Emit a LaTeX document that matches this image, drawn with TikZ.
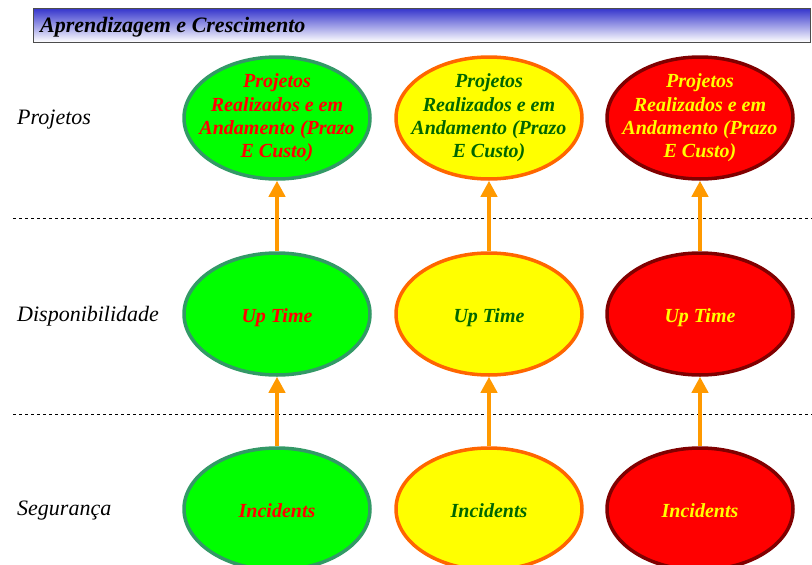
\documentclass[tikz,border=0pt]{standalone}
\usepackage{fontspec}
\setmainfont{Liberation Serif}
\usetikzlibrary{shapes.geometric,arrows.meta}
\definecolor{bargreen}{HTML}{00FF00}
\definecolor{edgegreen}{HTML}{339966}
\definecolor{baryellow}{HTML}{FFFF00}
\definecolor{edgeorange}{HTML}{FF6600}
\definecolor{barred}{HTML}{FF0000}
\definecolor{edgered}{HTML}{800000}
\definecolor{txtgreen}{HTML}{006600}
\definecolor{arrorange}{HTML}{FF9900}
\definecolor{titleblue}{HTML}{3333CC}
\tikzset{
  oval/.style={ellipse, line width=3.5pt, minimum width=186pt, minimum height=122pt,
    inner sep=0pt, align=center, font=\fontsize{20}{23.3}\selectfont\bfseries\itshape},
  long/.style={inner xsep=-17pt, inner ysep=-5pt},
  short/.style={text height=20pt, text depth=4pt},
  good/.style={oval, draw=edgegreen, fill=bargreen, text=barred},
  warn/.style={oval, draw=edgeorange, fill=baryellow, text=txtgreen},
  bad/.style={oval, draw=edgered, fill=barred, text=baryellow},
  rowlabel/.style={anchor=west, inner sep=0pt, font=\fontsize{22}{24}\selectfont\itshape},
  sep/.style={dashed, line width=0.6pt},
  link/.style={draw=arrorange, line width=4pt, -{Triangle[length=16pt,width=16pt]}}
}
\begin{document}
\begin{tikzpicture}[x=1pt,y=-1pt]
\useasboundingbox (0,0) rectangle (812,565);
% title bar
\shade[top color=titleblue, bottom color=white] (33,8) rectangle (810,42);
\draw[line width=0.8pt, black!70] (33,8) rectangle (810,42);
\node[anchor=west, inner sep=0pt, font=\fontsize{22}{24}\selectfont\bfseries\itshape] (title) at (40,27) {Aprendizagem e Crescimento};
% separators
\coordinate (s1a) at (13,218); \coordinate (s1b) at (812,218);
\coordinate (s2a) at (13,414); \coordinate (s2b) at (812,414);
\draw[sep] (s1a) -- (s1b);
\draw[sep] (s2a) -- (s2b);
% row labels
\node[rowlabel] (lp) at (17,120) {Projetos};
\node[rowlabel] (ld) at (17,316) {Disponibilidade};
\node[rowlabel] (ls) at (17,511) {Segurança};
% projects
\node[good,long] (p1) at (277,118) {Projetos\\Realizados e em\\Andamento (Prazo\\E Custo)};
\node[warn,long] (p2) at (489,118) {Projetos\\Realizados e em\\Andamento (Prazo\\E Custo)};
\node[bad,long]  (p3) at (700,118) {Projetos\\Realizados e em\\Andamento (Prazo\\E Custo)};
% availability
\node[good,short] (d1) at (277,314) {Up Time};
\node[warn,short] (d2) at (489,314) {Up Time};
\node[bad,short]  (d3) at (700,314) {Up Time};
% security
\node[good,short] (i1) at (277,509) {Incidents};
\node[warn,short] (i2) at (489,509) {Incidents};
\node[bad,short]  (i3) at (700,509) {Incidents};
% arrows
\foreach \a/\b in {i1/d1,i2/d2,i3/d3,d1/p1,d2/p2,d3/p3}
  \draw[link] (\a.north) -- (\b.south);
\end{tikzpicture}
\end{document}
